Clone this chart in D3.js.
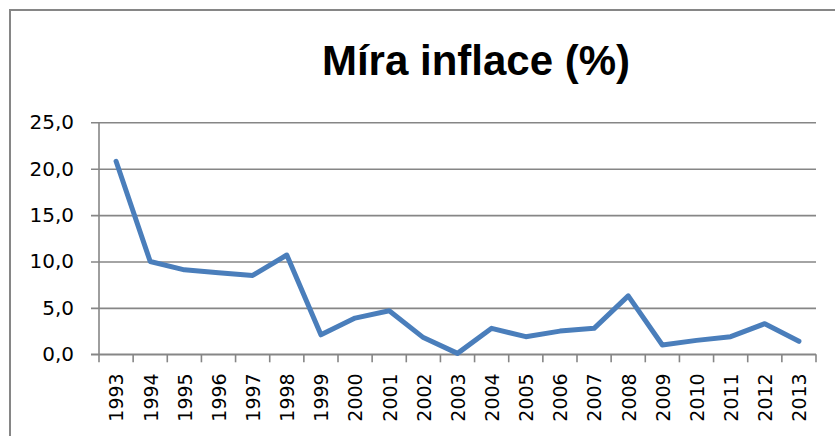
<!DOCTYPE html>
<html>
<head>
<meta charset="utf-8">
<script src="https://cdn.jsdelivr.net/npm/d3@7"></script>
<style>
html,body{margin:0;padding:0;background:#fff;}
svg{display:block;}
</style>
</head>
<body>
<svg id="chart" width="835" height="436"></svg>
<script>
const years = ["1993","1994","1995","1996","1997","1998","1999","2000","2001","2002","2003","2004","2005","2006","2007","2008","2009","2010","2011","2012","2013"];
const inflation = [20.8,10.0,9.1,8.8,8.5,10.7,2.1,3.9,4.7,1.8,0.1,2.8,1.9,2.5,2.8,6.3,1.0,1.5,1.9,3.3,1.4];
const yTicks = [0,5,10,15,20,25];
const title = "Míra inflace (%)";

(function(){
const svg = d3.select("#chart");
const W = 835, H = 436;
const pLeft = 99, pRight = 816, pTop = 122.3, pBottom = 354.3;
const grey = "#868686";
const font = "'Liberation Sans', Arial, sans-serif";
const tickFont = "'DejaVu Sans', Verdana, sans-serif";

// outer frame (top and left edge)
svg.append("line").attr("x1",9).attr("x2",W).attr("y1",10).attr("y2",10).attr("stroke",grey).attr("stroke-width",2);
svg.append("line").attr("x1",10).attr("x2",10).attr("y1",9).attr("y2",H).attr("stroke",grey).attr("stroke-width",2);

// title
svg.append("text").attr("x",476).attr("y",75).attr("text-anchor","middle")
  .attr("font-family",font).attr("font-weight","bold").attr("font-size",42).attr("fill","#000")
  .text(title);

const x = d3.scaleBand().domain(years).range([pLeft,pRight]).padding(0);
const y = d3.scaleLinear().domain([0,25]).range([pBottom,pTop]);

// y axis with gridlines
const yAxis = d3.axisLeft(y).tickValues(yTicks).tickSize(pRight-pLeft+8).tickPadding(17)
  .tickFormat(d => d3.format(".1f")(d).replace(".",","));
const gy = svg.append("g").attr("transform",`translate(${pRight},0)`).call(yAxis);
gy.select(".domain").remove();
gy.selectAll(".tick line").attr("stroke",grey).attr("stroke-width",1.6);
gy.selectAll(".tick text").attr("font-family",tickFont).attr("font-size",20).attr("fill","#000");

// y axis line
svg.append("line").attr("x1",pLeft).attr("x2",pLeft).attr("y1",pTop).attr("y2",pBottom).attr("stroke",grey).attr("stroke-width",1.6);

// x axis
const xAxis = d3.axisBottom(x).tickSize(0).tickPadding(0);
const gx = svg.append("g").attr("transform",`translate(0,${pBottom})`).call(xAxis);
gx.select(".domain").remove();
gx.selectAll(".tick line").remove();
gx.selectAll(".tick text")
  .attr("font-family",tickFont).attr("font-size",19).attr("fill","#000")
  .attr("text-anchor","end").attr("dy","0.36em")
  .attr("transform","translate(0.5,19) rotate(-90)")
  .attr("x",0).attr("y",0);
svg.append("line").attr("x1",pLeft-8).attr("x2",pRight).attr("y1",pBottom).attr("y2",pBottom).attr("stroke",grey).attr("stroke-width",1.6);
// category boundary ticks
const bounds = years.map(d => x(d)).concat([pRight]);
svg.append("g").selectAll("line").data(bounds).join("line")
  .attr("x1",d=>d).attr("x2",d=>d).attr("y1",pBottom).attr("y2",pBottom+8)
  .attr("stroke",grey).attr("stroke-width",1.6);

// line
const line = d3.line().x((d,i)=>x(years[i])+x.bandwidth()/2).y(d=>y(d));
svg.append("path").datum(inflation).attr("d",line)
  .attr("fill","none").attr("stroke","#4a7ebb").attr("stroke-width",5)
  .attr("stroke-linejoin","round").attr("stroke-linecap","round");
})();
</script>
</body>
</html>
